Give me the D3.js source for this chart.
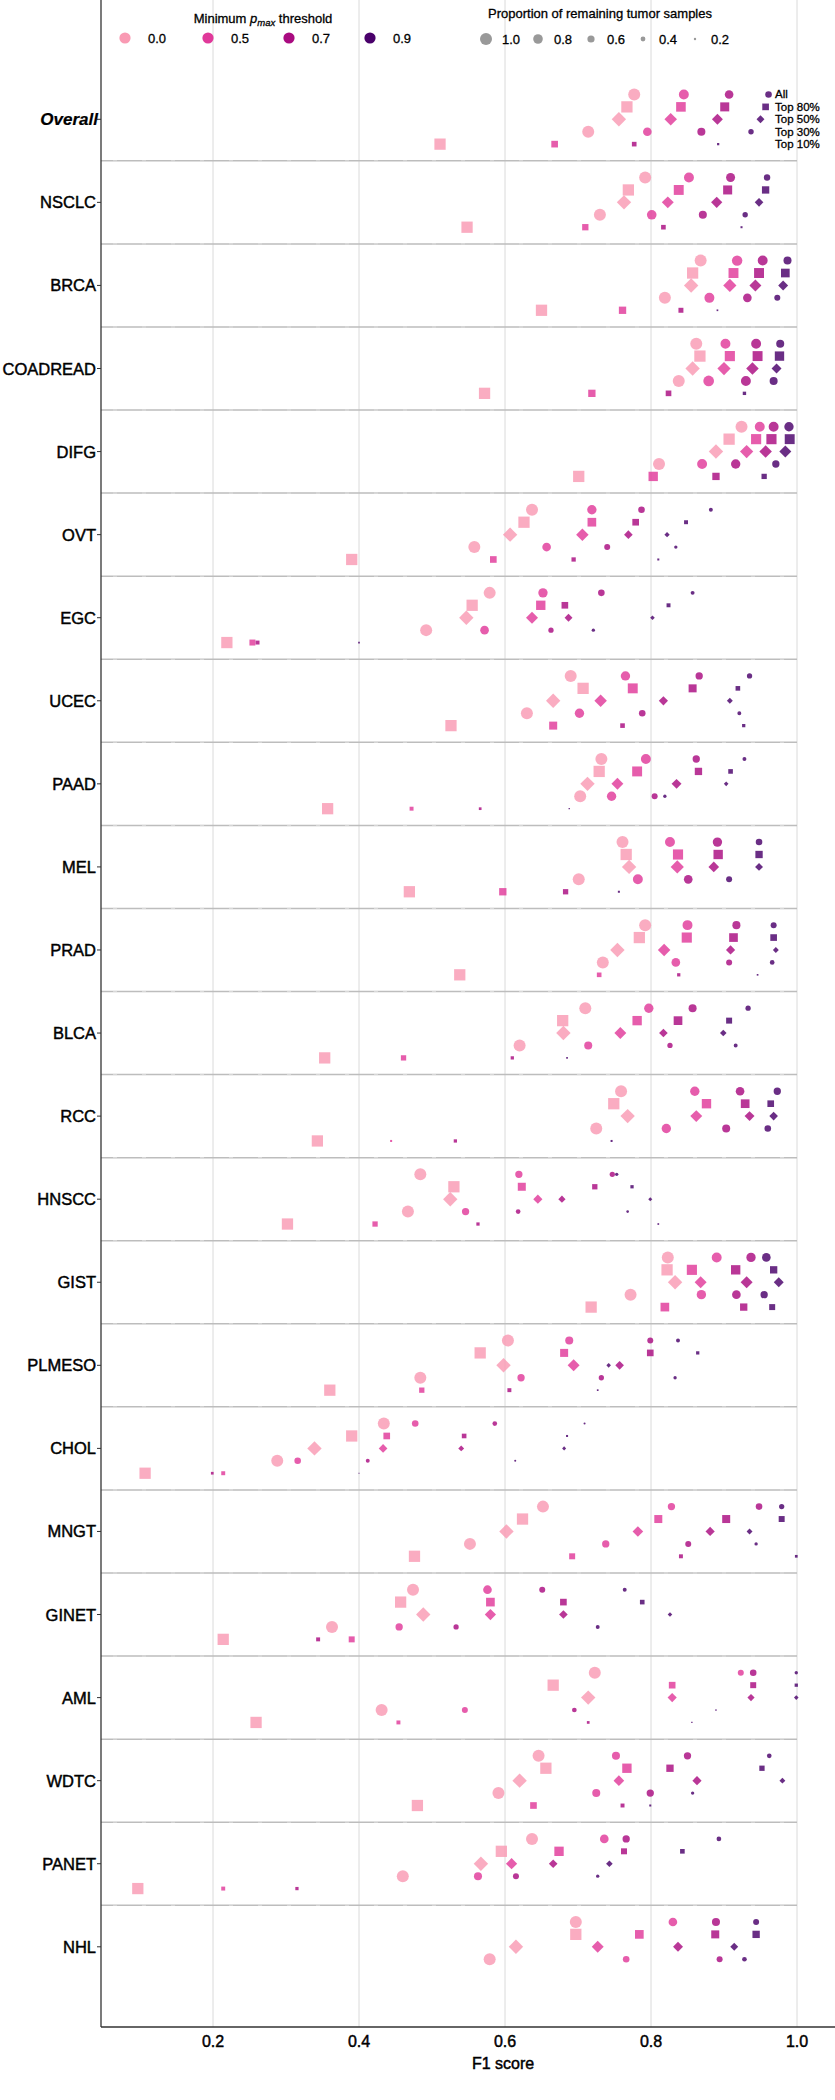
<!DOCTYPE html>
<html><head><meta charset="utf-8">
<script src="https://cdn.jsdelivr.net/npm/d3@7"></script>
<style>body{margin:0;background:#fff}svg{display:block}text.heavy{stroke:#000;stroke-width:0.45px}</style>
</head><body><div id="chart"></div>
<script>
const groups = ["Overall","NSCLC","BRCA","COADREAD","DIFG","OVT","EGC","UCEC","PAAD","MEL","PRAD","BLCA","RCC","HNSCC","GIST","PLMESO","CHOL","MNGT","GINET","AML","WDTC","PANET","NHL"];
const thresholds = ["0.0","0.5","0.7","0.9"];
const subsets = ["All","Top 80%","Top 50%","Top 30%","Top 10%"];
const sizeLegend = [1.0,0.8,0.6,0.4,0.2];
const xTicks = [0.2,0.4,0.6,0.8,1.0];

// F1 score per group (rows: All, Top 80%, Top 50%, Top 30%, Top 10%)
const f1_t00 = [
 [0.777,0.767,0.756,0.714,0.511],[0.792,0.769,0.763,0.730,0.548],[0.868,0.857,0.855,0.819,0.650],
 [0.862,0.867,0.857,0.838,0.572],[0.924,0.907,0.889,0.811,0.701],[0.637,0.626,0.607,0.558,0.390],
 [0.579,0.555,0.547,0.492,0.219],[0.690,0.707,0.666,0.630,0.526],[0.732,0.729,0.713,0.703,0.357],
 [0.761,0.766,0.770,0.701,0.469],[0.792,0.784,0.754,0.734,0.538],[0.710,0.679,0.680,0.620,0.353],
 [0.759,0.749,0.768,0.725,0.343],[0.484,0.530,0.525,0.467,0.302],[0.823,0.822,0.833,0.772,0.718],
 [0.604,0.566,0.598,0.484,0.360],[0.434,0.390,0.339,0.288,0.107],[0.652,0.624,0.602,0.552,0.476],
 [0.474,0.457,0.488,0.363,0.214],[0.723,0.666,0.714,0.431,0.259],[0.646,0.656,0.620,0.591,0.480],
 [0.637,0.595,0.567,0.460,0.097],[0.697,0.697,0.615,0.579,null]];
const f1_t05 = [
 [0.845,0.841,0.827,0.795,0.668],[0.852,0.838,0.823,0.801,0.710],[0.918,0.913,0.908,0.880,0.761],
 [0.902,0.908,0.900,0.879,0.719],[0.949,0.944,0.931,0.870,0.803],[0.719,0.719,0.706,0.657,0.584],
 [0.652,0.649,0.637,0.572,0.254],[0.765,0.775,0.731,0.702,0.666],[0.793,0.781,0.754,0.746,0.472],
 [0.826,0.837,0.836,0.782,0.597],[0.850,0.849,0.818,0.834,0.729],[0.797,0.781,0.758,0.714,0.461],
 [0.860,0.876,0.862,0.821,0.444],[0.619,0.623,0.645,0.546,0.422],[0.890,0.856,0.868,0.869,0.819],
 [0.688,0.681,0.694,0.622,0.486],[0.477,0.438,0.433,0.316,0.214],[0.828,0.810,0.782,0.738,0.692],
 [0.576,0.580,0.580,0.455,0.390],[0.923,0.829,0.829,0.545,0.454],[0.752,0.767,0.756,0.725,0.639],
 [0.736,0.674,0.609,0.563,0.214],[0.830,0.784,0.727,0.766,null]];
const f1_t07 = [
 [0.907,0.901,0.891,0.869,0.777],[0.909,0.905,0.890,0.871,0.817],[0.953,0.948,0.943,0.932,0.841],
 [0.944,0.946,0.939,0.930,0.824],[0.968,0.965,0.957,0.916,0.889],[0.787,0.779,0.769,0.740,0.694],
 [0.732,0.682,0.687,0.663,0.261],[0.866,0.857,0.817,0.788,0.761],[0.862,0.865,0.835,0.805,0.566],
 [0.891,0.892,0.886,0.851,0.683],[0.917,0.913,0.909,0.907,0.838],[0.857,0.837,0.817,0.826,0.610],
 [0.922,0.929,0.935,0.903,0.532],[0.747,0.723,0.678,0.618,0.563],[0.937,0.916,0.931,0.917,0.927],
 [0.799,0.799,0.757,0.732,0.606],[0.586,0.544,0.540,0.412,0.199],[0.948,0.903,0.881,0.851,0.841],
 [0.651,0.680,0.680,0.533,0.344],[0.940,0.940,0.937,0.695,0.714],[0.850,0.826,0.863,0.799,0.761],
 [0.766,0.763,0.666,0.615,0.315],[0.889,0.888,0.837,0.894,null]];
const f1_t09 = [
 [0.961,0.957,0.950,0.937,0.892],[0.959,0.957,0.948,0.929,0.924],[0.987,0.984,0.981,0.973,0.891],
 [0.977,0.976,0.972,0.968,0.928],[0.989,0.990,0.984,0.971,0.955],[0.882,0.848,0.822,0.834,0.810],
 [0.857,0.824,0.802,0.721,0.400],[0.935,0.919,0.908,0.921,0.927],[0.928,0.909,0.903,0.819,0.688],
 [0.948,0.948,0.948,0.907,0.756],[0.968,0.968,0.971,0.966,0.946],[0.933,0.907,0.899,0.916,0.685],
 [0.973,0.964,0.968,0.960,0.746],[0.753,0.774,0.799,0.768,0.810],[0.958,0.968,0.975,0.955,0.966],
 [0.837,0.864,0.742,0.833,0.727],[0.709,0.685,0.681,0.614,0.400],[0.979,0.979,0.935,0.944,0.999],
 [0.764,0.788,0.826,0.727,null],[0.999,0.999,0.999,0.889,0.856],[0.962,0.952,0.980,0.857,0.799],
 [0.893,0.843,0.743,0.727,null],[0.944,0.944,0.914,0.928,null]];

// proportion of remaining tumor samples (threshold 0.0 keeps all samples)
const prop_t00 = groups.map(() => [1,1,1,1,1]);
const prop_t05 = [
 [0.83,0.85,0.87,0.72,0.59],[0.83,0.88,0.83,0.80,0.56],[0.87,0.88,0.92,0.83,0.65],
 [0.83,0.90,0.92,0.89,0.65],[0.83,0.90,0.92,0.83,0.83],[0.78,0.77,0.87,0.72,0.59],
 [0.78,0.83,0.83,0.72,0.53],[0.78,0.88,0.87,0.78,0.71],[0.83,0.88,0.83,0.78,0.35],
 [0.83,0.90,0.92,0.83,0.65],[0.83,0.90,0.87,0.72,0.41],[0.78,0.83,0.83,0.67,0.47],
 [0.78,0.83,0.83,0.78,0.18],[0.61,0.71,0.64,0.61,0.47],[0.83,0.90,0.83,0.78,0.77],
 [0.67,0.71,0.83,0.61,0.47],[0.55,0.59,0.60,0.55,0.35],[0.61,0.71,0.74,0.61,0.53],
 [0.72,0.77,0.78,0.61,0.53],[0.50,0.59,0.64,0.50,0.35],[0.67,0.83,0.74,0.67,0.59],
 [0.72,0.83,0.78,0.67,0.35],[0.72,0.77,0.83,0.55,null]];
const prop_t07 = [
 [0.72,0.80,0.76,0.67,0.41],[0.75,0.80,0.78,0.67,0.41],[0.83,0.88,0.83,0.72,0.44],
 [0.83,0.88,0.87,0.83,0.50],[0.83,0.90,0.87,0.78,0.65],[0.55,0.59,0.60,0.50,0.38],
 [0.55,0.59,0.55,0.44,0.35],[0.61,0.71,0.64,0.55,0.41],[0.61,0.65,0.69,0.50,0.24],
 [0.78,0.83,0.74,0.72,0.47],[0.67,0.77,0.64,0.50,0.29],[0.67,0.77,0.60,0.44,0.29],
 [0.72,0.77,0.69,0.67,0.29],[0.44,0.47,0.50,0.39,0.29],[0.78,0.83,0.83,0.72,0.65],
 [0.50,0.59,0.60,0.44,0.35],[0.39,0.41,0.41,0.33,0.24],[0.55,0.71,0.64,0.50,0.35],
 [0.50,0.59,0.60,0.44,0.35],[0.55,0.53,0.50,0.39,0.24],[0.61,0.65,0.64,0.61,0.35],
 [0.61,0.53,0.60,0.50,0.29],[0.67,0.71,0.69,0.50,null]];
const prop_t09 = [
 [0.55,0.59,0.55,0.45,0.20],[0.53,0.65,0.60,0.45,0.18],[0.67,0.77,0.69,0.50,0.15],
 [0.67,0.83,0.69,0.67,0.30],[0.78,0.88,0.83,0.61,0.47],[0.33,0.35,0.37,0.28,0.18],
 [0.33,0.35,0.32,0.28,0.15],[0.44,0.41,0.41,0.33,0.29],[0.33,0.41,0.32,0.28,0.12],
 [0.55,0.65,0.55,0.50,0.18],[0.50,0.59,0.41,0.39,0.15],[0.44,0.53,0.46,0.33,0.15],
 [0.61,0.59,0.60,0.55,0.18],[0.28,0.29,0.28,0.22,0.15],[0.72,0.65,0.69,0.61,0.53],
 [0.33,0.29,0.32,0.28,0.15],[0.17,0.18,0.28,0.17,0.09],[0.44,0.53,0.41,0.28,0.24],
 [0.33,0.41,0.32,0.33,null],[0.28,0.29,0.32,0.14,0.12],[0.39,0.47,0.41,0.28,0.18],
 [0.39,0.41,0.46,0.28,null],[0.50,0.65,0.55,0.39,null]];

const legendColors = ["#f99ab3","#e0399a","#a90b80","#49006a"];
const shapes = ["circle","square","diamond","circle","square"];

const W = 835, H = 2100;
const svg = d3.select("#chart").append("svg").attr("width", W).attr("height", H)
  .style("font-family", "'Liberation Sans', Arial, sans-serif");

const x = d3.scaleLinear().domain([0.6, 1.0]).range([505, 797]);
const yG = d3.scaleLinear().domain([0, groups.length - 1]).range([119.3, 1946.8]);
const rowStep = 12.42;
const dSize = d3.scaleLinear().domain([0, 1]).range([0, 12]);
const color = d3.scaleOrdinal().domain(thresholds).range(legendColors);

const panelL = 101, panelR = 797, panelB = 2027;

// vertical grid
svg.append("g").selectAll("line").data(xTicks).join("line")
  .attr("x1", d => x(d)).attr("x2", d => x(d)).attr("y1", 0).attr("y2", panelB)
  .attr("stroke", "#dadada").attr("stroke-width", 1);

// group separators
const seps = d3.range(groups.length - 1).map(i => i + 0.5);
const sepG = svg.append("g");
sepG.selectAll("line.s").data(seps).join("line").attr("class", "s")
  .attr("x1", panelL).attr("x2", panelR).attr("y1", d => yG(d)).attr("y2", d => yG(d))
  .attr("stroke", "#bdbdbd").attr("stroke-width", 1.5);
sepG.selectAll("line.w").data(seps).join("line").attr("class", "w")
  .attr("x1", panelL + 12).attr("x2", panelR).attr("y1", d => yG(d)).attr("y2", d => yG(d))
  .attr("stroke", "#ececec").attr("stroke-width", 0.6).attr("stroke-dasharray", "4 25");

// points
const f1Sets = [f1_t00, f1_t05, f1_t07, f1_t09];
const propSets = [prop_t00, prop_t05, prop_t07, prop_t09];
const pts = [];
groups.forEach((g, gi) => {
  thresholds.forEach((t, ti) => {
    subsets.forEach((s, ri) => {
      const v = f1Sets[ti][gi][ri], p = propSets[ti][gi][ri];
      if (v == null || p == null) return;
      pts.push({g, gi, t, ti, s, ri, v, p});
    });
  });
});
function shapePath(shape, d) {
  if (shape === "circle") { const r = d / 2; return `M${-r},0a${r},${r} 0 1,0 ${2*r},0a${r},${r} 0 1,0 ${-2*r},0Z`; }
  if (shape === "square") { const h = d * 0.94 / 2; return `M${-h},${-h}H${h}V${h}H${-h}Z`; }
  const h = d * 1.2 / 2; return `M0,${-h}L${h},0L0,${h}L${-h},0Z`;
}
svg.append("g").selectAll("path").data(pts).join("path")
  .attr("transform", d => `translate(${x(d.v)},${yG(d.gi) + (d.ri - 2) * rowStep})`)
  .attr("d", d => shapePath(shapes[d.ri], dSize(d.p)))
  .attr("fill", d => color(d.t)).attr("fill-opacity", 0.82);

// subset annotation next to Overall
svg.append("g").selectAll("text").data(subsets).join("text").attr("class", "heavy")
  .attr("x", 775).attr("y", (d, i) => yG(0) + (i - 2) * rowStep + 4)
  .attr("font-size", 11.5).attr("fill", "#000").style("stroke-width", "0.3px").text(d => d);

// axes
svg.append("line").attr("x1", panelL).attr("x2", panelL).attr("y1", 0).attr("y2", panelB)
  .attr("stroke", "#333").attr("stroke-width", 1.3);
svg.append("line").attr("x1", panelL).attr("x2", W).attr("y1", panelB).attr("y2", panelB)
  .attr("stroke", "#333").attr("stroke-width", 1.3);

const yAxis = svg.append("g");
yAxis.selectAll("line").data(groups).join("line")
  .attr("x1", panelL - 4).attr("x2", panelL).attr("y1", (d, i) => yG(i)).attr("y2", (d, i) => yG(i))
  .attr("stroke", "#333");
yAxis.selectAll("text").data(groups).join("text").attr("class", "heavy")
  .attr("x", d => d === "Overall" ? panelL - 3 : panelL - 5).attr("y", (d, i) => yG(i) + 6)
  .attr("text-anchor", "end")
  .attr("font-size", d => d === "Overall" ? 17 : 16.5).attr("fill", "#000")
  .attr("font-weight", d => d === "Overall" ? "bold" : "normal")
  .attr("font-style", d => d === "Overall" ? "italic" : "normal")
  .style("stroke-width", d => d === "Overall" ? "0.2px" : "0.45px")
  .text(d => d);

const xAxis = svg.append("g");
xAxis.selectAll("text").data(xTicks).join("text").attr("class", "heavy")
  .attr("x", d => x(d)).attr("y", panelB + 20).attr("text-anchor", "middle")
  .attr("font-size", 16).attr("fill", "#000").text(d => d3.format(".1f")(d));
svg.append("text").attr("class", "heavy").attr("x", x(0.6) - 2).attr("y", panelB + 42).attr("text-anchor", "middle")
  .attr("font-size", 16).attr("fill", "#000").text("F1 score");

// legends
const lg1 = svg.append("g");
const t1 = lg1.append("text").attr("class", "heavy").attr("x", 263).attr("y", 23).attr("text-anchor", "middle")
  .attr("font-size", 13).attr("fill", "#000").style("stroke-width", "0.3px");
t1.append("tspan").text("Minimum ");
t1.append("tspan").attr("font-style", "italic").text("p");
t1.append("tspan").attr("font-style", "italic").attr("font-size", 9.5).attr("dy", 3).text("max");
t1.append("tspan").attr("dy", -3).text(" threshold");
const lg1x = [125, 208, 289, 370];
lg1.selectAll("circle").data(thresholds).join("circle")
  .attr("cx", (d, i) => lg1x[i]).attr("cy", 38).attr("r", 5.6).attr("fill", d => color(d));
lg1.selectAll("text.lab").data(thresholds).join("text").attr("class", "lab heavy")
  .attr("x", (d, i) => lg1x[i] + 23).attr("y", 43).attr("font-size", 13).attr("fill", "#000")
  .style("stroke-width", "0.3px").text(d => d);

const lg2 = svg.append("g");
lg2.append("text").attr("class", "heavy").attr("x", 600).attr("y", 18).attr("text-anchor", "middle")
  .attr("font-size", 13).attr("fill", "#000").style("stroke-width", "0.3px").text("Proportion of remaining tumor samples");
const lg2x = [486, 538, 591, 643, 695];
lg2.selectAll("circle").data(sizeLegend).join("circle")
  .attr("cx", (d, i) => lg2x[i]).attr("cy", 39).attr("r", d => dSize(d) / 2).attr("fill", "#999");
lg2.selectAll("text.lab").data(sizeLegend).join("text").attr("class", "lab heavy")
  .attr("x", (d, i) => lg2x[i] + 16).attr("y", 44).attr("font-size", 13).attr("fill", "#000")
  .style("stroke-width", "0.3px").text(d => d3.format(".1f")(d));
</script></body></html>
